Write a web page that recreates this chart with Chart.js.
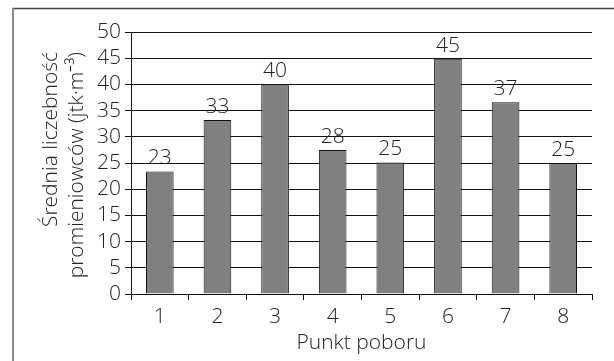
<!DOCTYPE html>
<html lang="pl">
<head>
<meta charset="UTF-8">
<title>Średnia liczebność promieniowców</title>
<script src="https://cdn.jsdelivr.net/npm/chart.js"></script>
<style>
  body { margin: 0; background: #fff; }
  #wrap { width: 614px; height: 361px; position: relative; }
</style>
</head>
<body>
<div id="wrap"><canvas id="chart"></canvas></div>
<script>
// punkty poboru (kategorie)
const punkty = ['1', '2', '3', '4', '5', '6', '7', '8'];
// wysokosci slupkow
const liczebnosc = [23.4, 33.2, 40.0, 27.5, 25.1, 44.9, 36.6, 25.0];
// podpisy nad slupkami
const podpisy = [23, 33, 40, 28, 25, 45, 37, 25];
// os Y
const yMin = 0, yMax = 50, yStep = 5;

const yTitle = ['Średnia liczebność', 'promieniowców (jtk·m⁻³)'];
const xTitle = 'Punkt poboru';

const FONT = "'Open Sans', 'DejaVu Sans', sans-serif";
const SIZE = 21;
const TXT = '#222';

// ramka: gorna linia i lewa linia
const frame = {
    id: 'frame',
    beforeDraw(chart) {
        const ctx = chart.ctx;
        ctx.save();
        ctx.fillStyle = '#fff';
        ctx.fillRect(0, 0, chart.width, chart.height);
        ctx.strokeStyle = '#444';
        ctx.lineWidth = 1.5;
        ctx.beginPath();
        ctx.moveTo(12, 8.5);
        ctx.lineTo(chart.width, 8.5);
        ctx.stroke();
        ctx.strokeStyle = '#8a8a8a';
        ctx.lineWidth = 2;
        ctx.beginPath();
        ctx.moveTo(13, 8);
        ctx.lineTo(13, chart.height);
        ctx.stroke();
        ctx.restore();
    }
};

// podpisy wartosci nad slupkami
const barLabels = {
    id: 'barLabels',
    afterDatasetsDraw(chart) {
        const ctx = chart.ctx;
        const meta = chart.getDatasetMeta(0);
        ctx.save();
        ctx.font = '300 ' + SIZE + 'px ' + FONT;
        ctx.fillStyle = TXT;
        ctx.textAlign = 'center';
        ctx.textBaseline = 'alphabetic';
        meta.data.forEach((bar, i) => {
            ctx.fillText(String(podpisy[i]), bar.x, bar.y - 7);
        });
        ctx.restore();
    }
};

// tytul osi Y (dwie linie, wyrownane do gory)
const yAxisTitle = {
    id: 'yAxisTitle',
    afterDraw(chart) {
        const ctx = chart.ctx;
        const top = chart.scales.y.top;
        ctx.save();
        ctx.font = '300 ' + SIZE + 'px ' + FONT;
        ctx.fillStyle = TXT;
        ctx.textAlign = 'right';
        ctx.textBaseline = 'middle';
        ctx.translate(0, top + 20);
        ctx.rotate(-Math.PI / 2);
        ctx.fillText(yTitle[0], 0, 51);
        ctx.fillText(yTitle[1], 0, 77);
        ctx.restore();
    }
};

new Chart(document.getElementById('chart'), {
    type: 'bar',
    data: {
        labels: punkty,
        datasets: [{
            data: liczebnosc,
            backgroundColor: '#808080',
            borderColor: '#111',
            borderWidth: 1,
            borderSkipped: 'start',
            barPercentage: 0.48,
            categoryPercentage: 1.0
        }]
    },
    options: {
        responsive: true,
        maintainAspectRatio: false,
        animation: false,
        layout: { padding: { top: 32, right: 22, left: 0, bottom: 0 } },
        plugins: {
            legend: { display: false },
            tooltip: { enabled: false }
        },
        scales: {
            x: {
                grid: {
                    offset: true,
                    drawOnChartArea: false,
                    drawTicks: true,
                    tickLength: 6,
                    color: '#111'
                },
                border: { color: '#111', width: 1 },
                ticks: { color: TXT, padding: 4, autoSkip: false, font: { family: FONT, size: SIZE, weight: 300 } },
                title: {
                    display: true,
                    text: xTitle,
                    color: TXT,
                    font: { family: FONT, size: SIZE, weight: 300, lineHeight: 1.3 },
                    padding: { top: 0, bottom: 4 }
                },
                afterFit(scale) { scale.height = 67; }
            },
            y: {
                min: yMin,
                max: yMax,
                grid: { color: '#111', tickLength: 6, drawTicks: true },
                border: { color: '#111', width: 1 },
                ticks: {
                    stepSize: yStep,
                    autoSkip: false,
                    color: TXT,
                    padding: 4,
                    font: { family: FONT, size: SIZE, weight: 300, lineHeight: 1 }
                },
                afterFit(scale) { scale.width = 131; }
            }
        }
    },
    plugins: [frame, barLabels, yAxisTitle]
});
</script>
</body>
</html>
